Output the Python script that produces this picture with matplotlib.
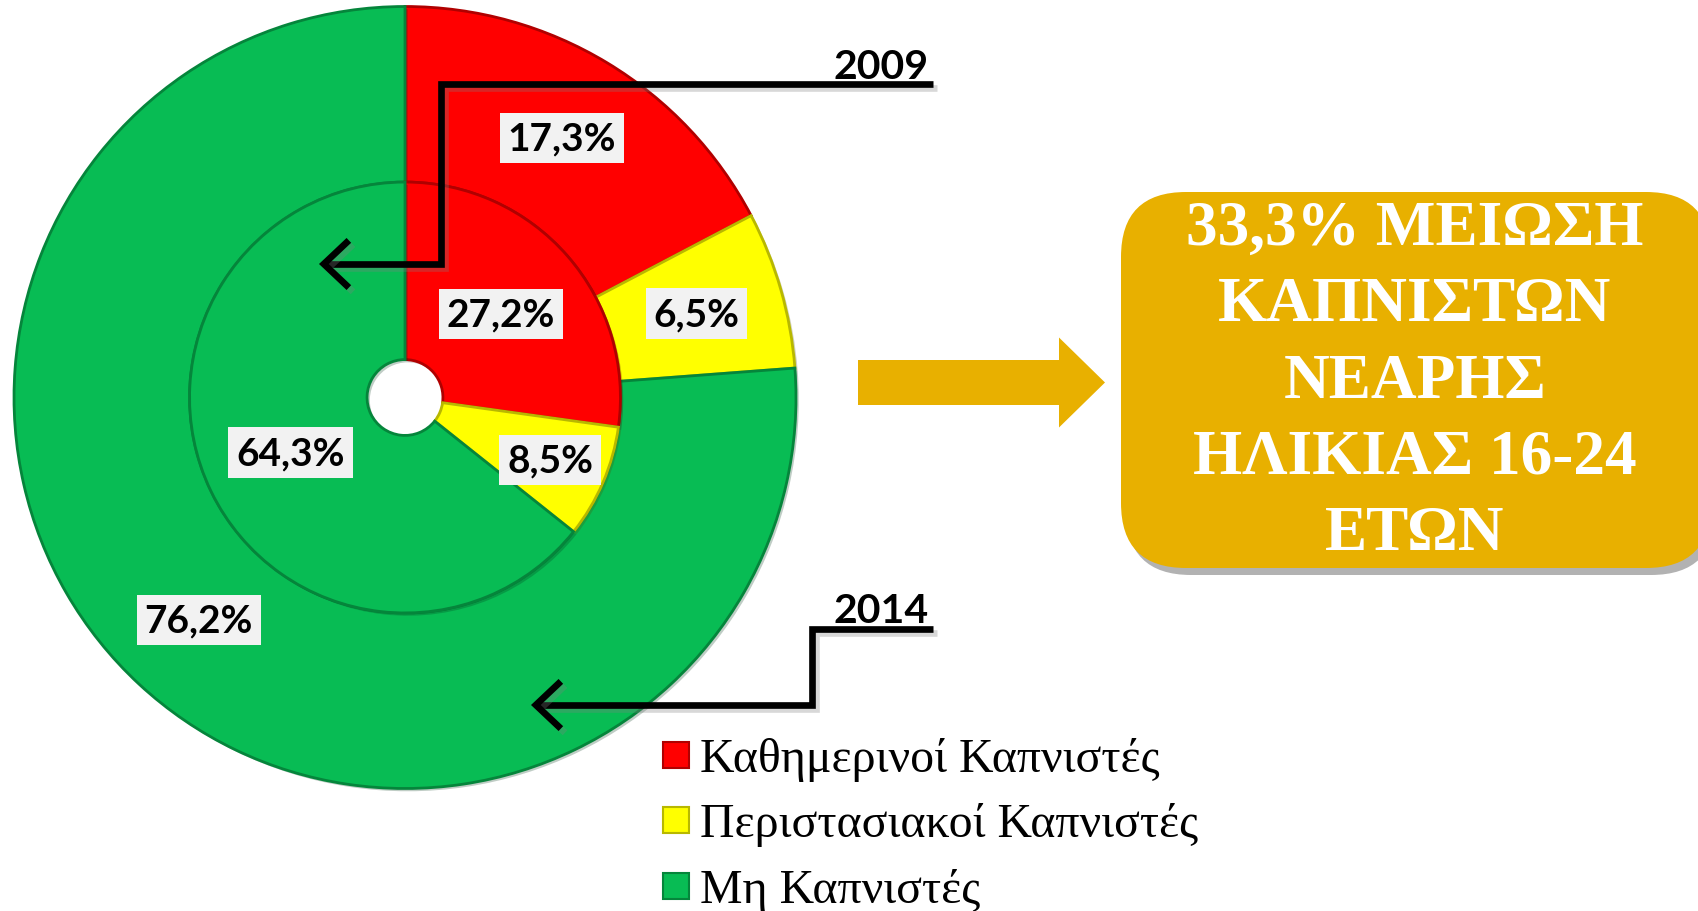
import numpy as np
import matplotlib
matplotlib.use("Agg")
import matplotlib.pyplot as plt
import matplotlib.patches as mpatches
import matplotlib.patheffects as pe
from matplotlib.path import Path

# data
categories = ["Καθημερινοί Καπνιστές", "Περιστασιακοί Καπνιστές", "Μη Καπνιστές"]
values_2009 = [27.2, 8.5, 64.3]   # inner ring
values_2014 = [17.3, 6.5, 76.2]   # outer ring
years = ["2009", "2014"]
callout_lines = ["33,3% ΜΕΙΩΣΗ", "ΚΑΠΝΙΣΤΩΝ", "ΝΕΑΡΗΣ", "ΗΛΙΚΙΑΣ 16-24", "ΕΤΩΝ"]

colors = ["#FF0000", "#FFFF00", "#08BC54"]
edge_colors = ["#B00000", "#B8B800", "#05853B"]
gold = "#E8B000"

W, H = 1698, 912
fig = plt.figure(figsize=(W / 100, H / 100), dpi=100)

# pie axes (square in pixels)
cx, cy, R = 405, 398.5, 391
ax = fig.add_axes([(cx - R) / W, (H - cy - R) / H, 2 * R / W, 2 * R / H])

r_inner = 0.551
r_hole = 0.097

def fmt(p):
    return f"{p:.1f}%".replace(".", ",")

label_font = dict(family="Lato", weight="bold", size=28, color="black")
box = dict(facecolor="#F2F2F2", edgecolor="none", boxstyle="square,pad=0.2")

w_out, _, t_out = ax.pie(values_2014, radius=1, startangle=90, counterclock=False,
                         colors=colors, autopct=fmt, pctdistance=0.776,
                         wedgeprops=dict(width=1 - r_inner, linewidth=2))
w_in, _, t_in = ax.pie(values_2009, radius=r_inner, startangle=90, counterclock=False,
                       colors=colors, autopct=fmt, pctdistance=0.59,
                       wedgeprops=dict(width=r_inner - r_hole, linewidth=2))

for wedges in (w_out, w_in):
    for w, ec in zip(wedges, edge_colors):
        w.set_edgecolor(ec)
        w.set_path_effects([pe.SimplePatchShadow(offset=(2, -2), alpha=0.25), pe.Normal()])

for t in list(t_out) + list(t_in):
    t.set(**label_font)
    t.set_bbox(box)

# occasional smokers label in the inner ring sits a bit further out
w = w_in[1]
mid = np.deg2rad((w.theta1 + w.theta2) / 2)
t_in[1].set_position((0.404 * np.cos(mid), 0.404 * np.sin(mid)))

ax.set_xlim(-1, 1)
ax.set_ylim(-1, 1)
ax.set_aspect("equal")
ax.axis("off")

# overlay axes in pixel coordinates for annotations
ov = fig.add_axes([0, 0, 1, 1], zorder=5)
ov.set_xlim(0, W)
ov.set_ylim(H, 0)
ov.axis("off")
ov.patch.set_alpha(0)

shadow = [pe.SimpleLineShadow(offset=(3, -3), alpha=0.3, shadow_color="gray"), pe.Normal()]

# year callouts
year_paths = [
    [(933, 84.5), (441, 84.5), (441, 265), (319, 265)],
    [(933, 630), (812, 630), (812, 706), (531, 706)],
]
year_baselines = [79, 623]
for yr, verts, yb in zip(years, year_paths, year_baselines):
    ov.text(929, yb, yr, ha="right", va="baseline", family="Lato",
            weight="bold", size=29.5, color="black")
    arr = mpatches.FancyArrowPatch(path=Path(verts), arrowstyle="->,head_length=0.9,head_width=0.85",
                                   mutation_scale=20, lw=4.8, color="black",
                                   joinstyle="miter", capstyle="butt")
    arr.set_path_effects(shadow)
    ov.add_patch(arr)

# gold block arrow
ov.add_patch(mpatches.FancyArrow(858, 383.5, 247, 0, width=45, head_width=90,
                                 head_length=46, length_includes_head=True,
                                 color=gold, lw=0))

# rounded callout box with shadow
bx, by, bw, bh = 1121, 193, 590, 376
ov.add_patch(mpatches.FancyBboxPatch((bx + 5, by + 7), bw, bh,
                                     boxstyle="round,pad=0,rounding_size=65",
                                     facecolor="#555555", edgecolor="none", alpha=0.45))
ov.add_patch(mpatches.FancyBboxPatch((bx, by), bw, bh,
                                     boxstyle="round,pad=0,rounding_size=65",
                                     facecolor=gold, edgecolor="none"))
for i, line in enumerate(callout_lines):
    ov.text(1415, 230 + i * 76.3, line, ha="center", va="center",
            family="Liberation Serif", weight="bold", size=45.5, color="white")

# legend
for i, (cat, col, ec) in enumerate(zip(categories, colors, edge_colors)):
    yb = 772 + i * 65.5
    ov.add_patch(mpatches.Rectangle((663, yb - 29), 26, 26, facecolor=col,
                                    edgecolor=ec, lw=1.5))
    ov.text(700, yb, cat, ha="left", va="baseline", family="Liberation Serif",
            size=34.5, color="black")

fig.savefig("out.png", dpi=100)
